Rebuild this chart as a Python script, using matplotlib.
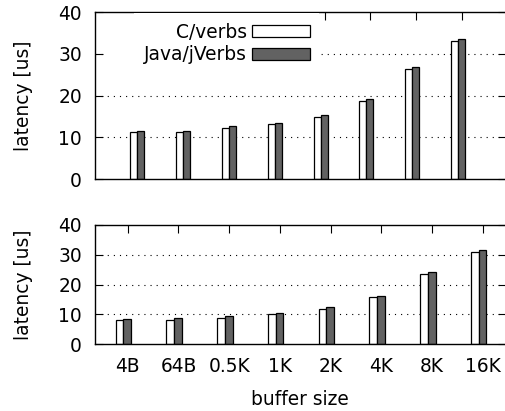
import numpy as np
import matplotlib.pyplot as plt
from matplotlib.patches import Patch, Rectangle

# buffer sizes on the x axis
sizes = ['4B', '64B', '0.5K', '1K', '2K', '4K', '8K', '16K']

# latency [us], upper panel
top_c = [11.2, 11.3, 12.2, 13.1, 14.9, 18.7, 26.5, 33.2]
top_java = [11.6, 11.6, 12.7, 13.5, 15.4, 19.1, 26.9, 33.7]

# latency [us], lower panel
bot_c = [7.95, 8.1, 8.9, 10.0, 11.8, 15.7, 23.6, 30.9]
bot_java = [8.5, 8.7, 9.4, 10.5, 12.3, 16.1, 24.2, 31.5]

plt.rcParams['font.family'] = 'DejaVu Sans'
plt.rcParams['font.size'] = 13.4

W, H = 505, 411
fig = plt.figure(figsize=(W / 100, H / 100), dpi=100)

ax1 = fig.add_axes([95 / W, 1 - 179 / H, 411 / W, (179 - 12.3) / H])
ax2 = fig.add_axes([95 / W, 1 - 344 / H, 411 / W, (344 - 225) / H])

x = np.arange(len(sizes))
bw = 0.153
dark = '#626262'


def draw(ax, c_vals, j_vals, xlim):
    ax.set_axisbelow(True)
    ax.bar(x - 0.085 - bw / 2, c_vals, bw, color='white', edgecolor='black', linewidth=0.9, zorder=2)
    ax.bar(x - 0.085 + bw / 2, j_vals, bw, color=dark, edgecolor='black', linewidth=0.9, zorder=2)
    ax.set_xlim(*xlim)
    ax.set_ylim(0, 40)
    ax.set_yticks([0, 10, 20, 30, 40])
    ax.set_xticks(x)
    for v in [10, 20, 30]:
        ax.axhline(v, color='black', linewidth=0.8, linestyle=(0, (1, 4.5)), zorder=1)
    ax.tick_params(direction='in', length=6, width=0.8, top=True, right=True, colors='black')
    ax.tick_params(axis='y', pad=9.4)
    ax.tick_params(axis='x', pad=9)
    ax.spines['right'].set_visible(False)
    for s in ['top', 'left', 'bottom']:
        ax.spines[s].set_linewidth(1.0)
    ax.set_ylabel('latency [us]')
    ax.yaxis.set_label_coords(-0.151, 0.5)


draw(ax1, top_c, top_java, (-1.01, 7.96))
draw(ax2, bot_c, bot_java, (-0.646, 7.457))
ax1.set_xticklabels([])
ax2.set_xticklabels(sizes)

fig.text(300 / W, 1 - 399 / H, 'buffer size', ha='center', va='center')

# legend background in gnuplot blanks the whole key area
ax1.add_patch(Rectangle((0.03, 28.5), 0.52, 3, transform=ax1.get_yaxis_transform(),
                        facecolor='white', edgecolor='none', zorder=1.5))

handles = [Patch(facecolor='white', edgecolor='black', linewidth=0.9),
           Patch(facecolor=dark, edgecolor='black', linewidth=0.9)]
leg = ax1.legend(handles, ['C/verbs', 'Java/jVerbs'], loc='upper right',
                 bbox_to_anchor=(319 / W, 1 - 13.4 / H), bbox_transform=fig.transFigure,
                 markerfirst=False, frameon=True, fancybox=False, framealpha=1,
                 edgecolor='none', facecolor='white', handlelength=3.12,
                 handleheight=0.575, handletextpad=0.27, labelspacing=0.2,
                 borderpad=0.5, borderaxespad=0)
for t in leg.get_texts():
    t.set_ha('right')

fig.savefig('out.png', dpi=100)
